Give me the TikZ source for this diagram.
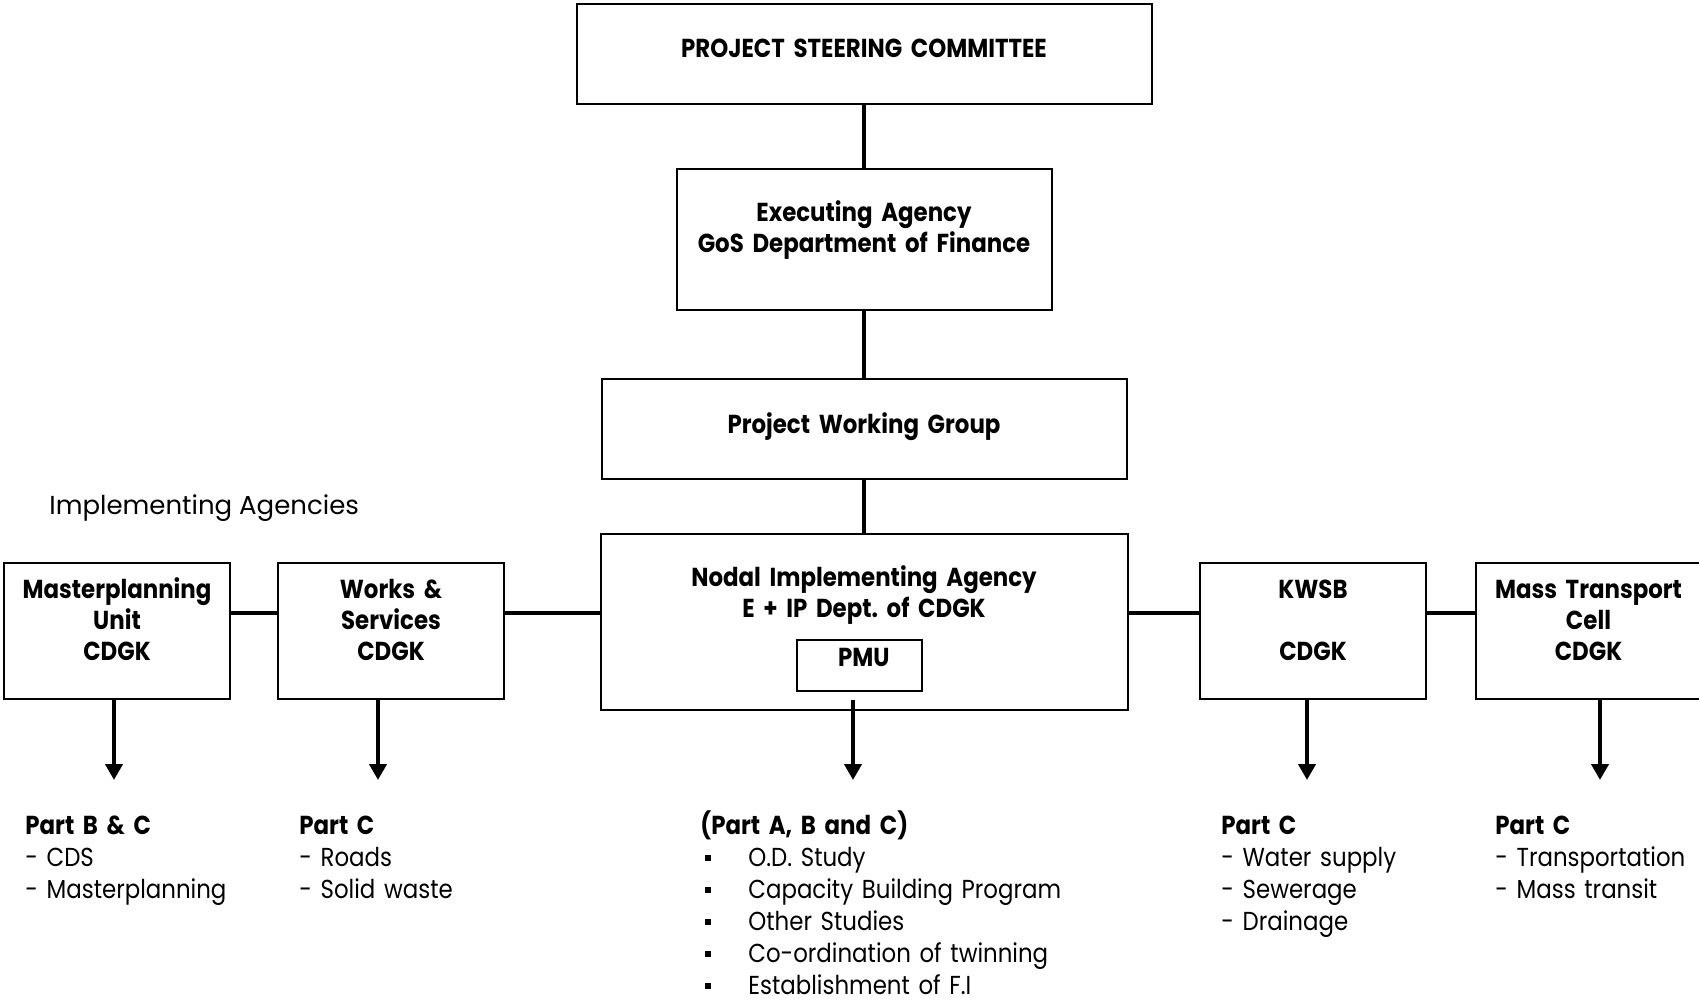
\documentclass[tikz,border=0pt]{standalone}
\usepackage{fontspec}
\setmainfont[FakeStretch=0.88]{Poppins}
\newfontfamily\widefont{Poppins}
\usetikzlibrary{arrows.meta,positioning,calc}
\tikzstyle{arrow} = [line width=2.2pt,-{Triangle[length=8pt,width=8.5pt]}]
\tikzstyle{link} = [line width=2.2pt]
\newcommand{\sqbullet}{\makebox[24pt][l]{\hspace{2.5pt}\raisebox{2.7pt}{\rule{2.7pt}{2.7pt}}}}
\frenchspacing

\begin{document}
\begin{tikzpicture}[x=0.5pt,y=-0.5pt,
    every node/.style={inner sep=0pt,font=\fontsize{13}{15.5}\selectfont},
    unit/.style={draw,line width=1pt,anchor=north,align=center,font=\fontsize{13}{15.5}\selectfont\bfseries},
    parts/.style={anchor=base west,align=left,text width=160pt,font=\fontsize{13}{16}\selectfont}]
    \useasboundingbox (0,0) rectangle (1699,1001);
    \clip (0,0) rectangle (1699,1001);

    % the chain of command
    \node (psc) [unit,text width=287.5pt,text height=26.5pt,text depth=23.5pt] at (864,3) {PROJECT STEERING COMMITTEE};
    \node (exec) [unit,text width=187.5pt,text height=26pt,text depth=44.5pt] at (864,168) {Executing Agency\\GoS Department of Finance};
    \node (pwg) [unit,text width=262.5pt,text height=27pt,text depth=23pt] at (864,378) {Project Working Group};
    \node (nodal) [unit,text width=263.5pt,text height=26pt,text depth=62pt] at (864,533) {Nodal Implementing Agency\\E + IP Dept. of CDGK};
    \node (pmu) [unit,line width=0.8pt,text width=62.5pt,text height=13.5pt,text depth=12pt] at (859.5,639) {\hspace*{4.4pt}PMU};

    % implementing agencies
    \node (impl) [anchor=base west,font=\widefont\fontsize{13}{15}\selectfont] at (49,514) {Implementing Agencies};
    \node (mpu) [unit,text width=113pt,text height=17.5pt,text depth=50.5pt] at (117,562) {Masterplanning\\Unit\\CDGK};
    \node (works) [unit,text width=113pt,text height=17.5pt,text depth=50.5pt] at (391,562) {Works \&\\Services\\CDGK};
    \node (kwsb) [unit,text width=113pt,text height=17.5pt,text depth=50.5pt] at (1313,562) {KWSB\\[15.5pt]CDGK};
    \node (mtc) [unit,text width=112.5pt,text height=17.5pt,text depth=50.5pt] at (1588.5,562) {Mass Transport\\Cell\\CDGK};

    % what each agency takes care of
    \node (partsmpu) [parts] at (25,834) {\textbf{Part B \& C}\\- CDS\\- Masterplanning};
    \node (partsworks) [parts] at (299,834) {\textbf{Part C}\\- Roads\\- Solid waste};
    \node (partsnodal) [parts,text width=220pt] at (700,834) {\textbf{(Part A, B and C)}\\
        \sqbullet O.D. Study\\
        \sqbullet Capacity Building Program\\
        \sqbullet Other Studies\\
        \sqbullet Co-ordination of twinning\\
        \sqbullet Establishment of F.I};
    \node (partskwsb) [parts] at (1221,834) {\textbf{Part C}\\- Water supply\\- Sewerage\\- Drainage};
    \node (partsmtc) [parts] at (1495,834) {\textbf{Part C}\\- Transportation\\- Mass transit};

    % connect the nodes
    \coordinate (row) at (0,613);
    \draw[link] (psc) -- (exec);
    \draw[link] (exec) -- (pwg);
    \draw[link] (pwg) -- (nodal);
    \draw[link] (mpu.east |- row) -- (works.west |- row);
    \draw[link] (works.east |- row) -- (nodal.west |- row);
    \draw[link] (nodal.east |- row) -- (kwsb.west |- row);
    \draw[link] (kwsb.east |- row) -- (mtc.west |- row);

    \coordinate (tipmpu) at (114,780);
    \coordinate (tipworks) at (378,780);
    \coordinate (tipnodal) at (853,780);
    \coordinate (tipkwsb) at (1307,780);
    \coordinate (tipmtc) at (1600,780);
    \draw[arrow] (mpu.south -| tipmpu) -- (tipmpu);
    \draw[arrow] (works.south -| tipworks) -- (tipworks);
    \draw[arrow] ($(pmu.south -| tipnodal)+(0,8)$) -- (tipnodal);
    \draw[arrow] (kwsb.south -| tipkwsb) -- (tipkwsb);
    \draw[arrow] (mtc.south -| tipmtc) -- (tipmtc);
\end{tikzpicture}
\end{document}
